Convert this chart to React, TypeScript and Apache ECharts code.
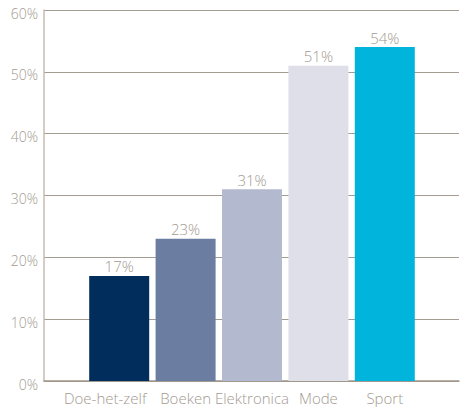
import React, { useEffect, useRef } from "react";
import * as echarts from "echarts";

const categories = ["Doe-het-zelf", "Boeken", "Elektronica", "Mode", "Sport"];
const values = [17, 23, 31, 51, 54];
const barColors = ["#002d5b", "#6b7ea2", "#b3b9cf", "#dfdfea", "#00b4dc"];
const yTicks = [0, 10, 20, 30, 40, 50, 60];

const textColor = "#a39a91";
const font = "'Open Sans', sans-serif";

export default function App() {
  const ref = useRef<HTMLDivElement>(null);
  useEffect(() => {
    if (!ref.current) return;
    const chart = echarts.init(ref.current, undefined, { renderer: "svg" });
    chart.setOption({
      animation: false,
      grid: [
        { left: 44, right: 1, top: 10, bottom: 28, containLabel: false },
        { left: 86, right: 42, top: 10, bottom: 28, containLabel: false },
      ],
      xAxis: [
        {
          gridIndex: 0,
          type: "category",
          data: [""],
          axisLine: { show: true, lineStyle: { color: "#9f968b", width: 1.5 } },
          axisTick: { show: false },
          axisLabel: { show: false },
        },
        {
          gridIndex: 1,
          type: "category",
          data: categories.map((c, i) =>
            i === 0 ? { value: c, textStyle: { padding: [0, 28, 0, 0] } } : c
          ),
          axisLine: { show: false },
          axisTick: { show: false },
          axisLabel: {
            color: textColor,
            fontFamily: font,
            fontSize: 15,
            fontWeight: 300,
            margin: 9,
            interval: 0,
          },
        },
      ],
      yAxis: [
        {
          gridIndex: 0,
          type: "value",
          min: yTicks[0],
          max: yTicks[yTicks.length - 1],
          interval: 10,
          axisLine: { show: true, lineStyle: { color: "#c6bdb3", width: 1.5 } },
          axisTick: { show: false },
          splitLine: { show: true, lineStyle: { color: "#a59c91", width: 1 } },
          axisLabel: {
            color: textColor,
            fontFamily: font,
            fontSize: 14,
            fontWeight: 300,
            margin: 6,
            formatter: (v: number) => "{a|" + v + "%}",
            rich: {
              a: {
                color: textColor,
                fontFamily: font,
                fontSize: 14,
                padding: [6, 0, 0, 0],
              },
            },
          },
        },
        {
          gridIndex: 1,
          type: "value",
          min: yTicks[0],
          max: yTicks[yTicks.length - 1],
          show: false,
          splitLine: { show: false },
        },
      ],
      series: [
        {
          type: "bar",
          xAxisIndex: 1,
          yAxisIndex: 1,
          barWidth: 60,
          data: values.map((v, i) => ({ value: v, itemStyle: { color: barColors[i] } })),
          label: {
            show: true,
            position: "top",
            distance: 2,
            color: textColor,
            fontFamily: font,
            fontSize: 15,
            fontWeight: 300,
            formatter: (p: any) => p.value + "%",
          },
        },
      ],
    });
    return () => chart.dispose();
  }, []);
  return (
    <div
      ref={ref}
      style={{ position: "absolute", left: 0, top: 0, width: 460, height: 409 }}
    />
  );
}
